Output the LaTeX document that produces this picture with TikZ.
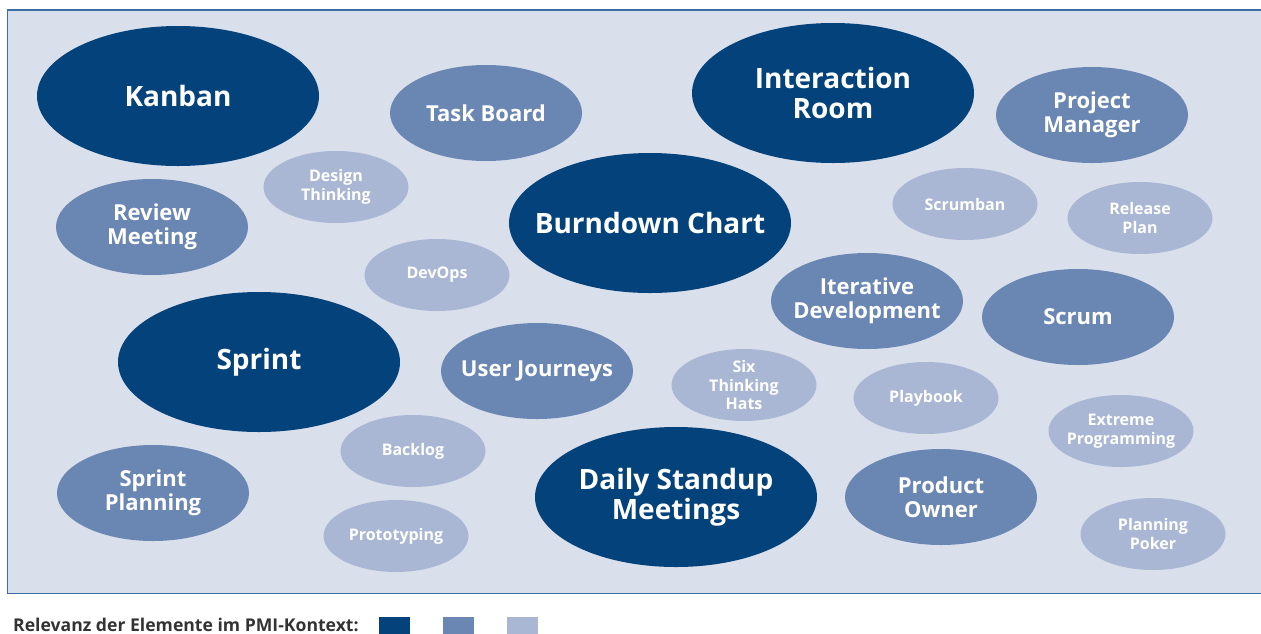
\documentclass[tikz,border=0pt]{standalone}
\usepackage{fontspec}
\setmainfont{Open Sans}
\usetikzlibrary{shapes.geometric}

\definecolor{relhigh}{HTML}{03427A}
\definecolor{relmid}{HTML}{6A86B3}
\definecolor{rellow}{HTML}{A9B7D4}
\definecolor{panel}{HTML}{DADFEC}
\definecolor{frame}{HTML}{3A6EA5}
\definecolor{legendtext}{HTML}{333333}

\tikzset{
  blob/.style={ellipse, inner sep=0pt},
  blobtext/.style={inner sep=0pt, text=white, align=center},
  bigblob/.style={blob, fill=relhigh, minimum width=282, minimum height=140},
  midblob/.style={blob, fill=relmid, minimum width=192, minimum height=96},
  smallblob/.style={blob, fill=rellow, minimum width=145, minimum height=72},
  bigtext/.style={blobtext, font=\bfseries\fontsize{28}{30}\selectfont},
  midtext/.style={blobtext, font=\bfseries\fontsize{22}{24.5}\selectfont},
  smalltext/.style={blobtext, font=\bfseries\fontsize{16}{18.5}\selectfont},
  legendbox/.style={minimum width=31, minimum height=17, inner sep=0pt},
}

\begin{document}
\begin{tikzpicture}[x=1pt, y=-1pt]
    \useasboundingbox (0, 0) rectangle (1261, 633) ;
    \draw[frame, fill=panel, line width=1.2pt] (7.5, 10) rectangle (1270, 593.5) ;

    % high relevance
    \node[bigblob, label={[bigtext]center:Kanban}] (kanban) at (178, 96) {} ;
    \node[bigblob, label={[bigtext]center:Interaction\\Room}] (room) at (833, 93) {} ;
    \node[bigblob, label={[bigtext]center:Burndown Chart}] (burndown) at (650, 223) {} ;
    \node[bigblob, label={[bigtext]center:Sprint}] (sprint) at (259, 362) {} ;
    \node[bigblob, label={[bigtext]center:Daily Standup\\Meetings}] (standup) at (676, 497) {} ;

    % medium relevance
    \node[midblob, label={[midtext]center:Task Board}] (taskboard) at (486, 113) {} ;
    \node[midblob, label={[midtext]center:Project\\Manager}] (manager) at (1092, 115) {} ;
    \node[midblob, label={[midtext]center:Review\\Meeting}] (review) at (152, 227) {} ;
    \node[midblob, label={[midtext]center:Iterative\\Development}] (iterative) at (867, 301) {} ;
    \node[midblob, label={[midtext]center:Scrum}] (scrum) at (1078, 317) {} ;
    \node[midblob, label={[midtext]center:User Journeys}] (journeys) at (537, 371) {} ;
    \node[midblob, label={[midtext]center:Sprint\\Planning}] (planning) at (153, 493) {} ;
    \node[midblob, label={[midtext]center:Product\\Owner}] (owner) at (941, 497) {} ;

    % low relevance
    \node[smallblob, label={[smalltext]center:Design\\Thinking}] (design) at (336, 187) {} ;
    \node[smallblob, label={[smalltext]center:DevOps}] (devops) at (437, 275) {} ;
    \node[smallblob, label={[smalltext]center:Scrumban}] (scrumban) at (965, 204) {} ;
    \node[smallblob, label={[smalltext]center:Release\\Plan}] (release) at (1140, 218) {} ;
    \node[smallblob, label={[smalltext]center:Six\\Thinking\\Hats}] (hats) at (744, 385) {} ;
    \node[smallblob, label={[smalltext]center:Playbook}] (playbook) at (926, 398) {} ;
    \node[smallblob, label={[smalltext]center:Extreme\\Programming}] (xp) at (1121, 431) {} ;
    \node[smallblob, label={[smalltext]center:Backlog}] (backlog) at (413, 451) {} ;
    \node[smallblob, label={[smalltext]center:Prototyping}] (proto) at (396, 536) {} ;
    \node[smallblob, label={[smalltext]center:Planning\\Poker}] (poker) at (1153, 534) {} ;

    % legend
    \node[anchor=base west, inner sep=0pt, text=legendtext,
      font=\bfseries\fontsize{17.6}{17.6}\selectfont] (legend) at (13, 631)
      {Relevanz der Elemente im PMI-Kontext:} ;
    \node[legendbox, fill=relhigh] (keyhigh) at (394, 625) {} ;
    \node[legendbox, fill=relmid] (keymid) at (458.5, 625) {} ;
    \node[legendbox, fill=rellow] (keylow) at (522.5, 625) {} ;
\end{tikzpicture}
\end{document}
